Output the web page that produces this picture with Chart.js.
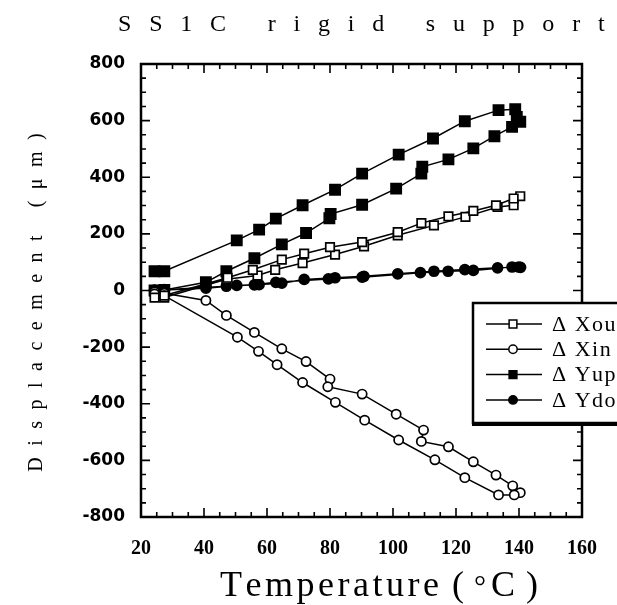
<html>
<head>
<script src="https://cdn.jsdelivr.net/npm/chart.js@4.4.0/dist/chart.umd.min.js"></script>
</head>
<body style="margin:0;background:#fff">
<canvas id="chart" width="617" height="605"></canvas>
<script>

// readings: temperature (deg C) and displacement (um), in drawing order
var xouT = [24.3, 27.4, 47.1, 57, 62.6, 71.3, 81.6, 90.8, 101.5, 113, 123, 133.2, 138.3, 140.4, 138.3, 132.7, 125.5, 117.6, 109, 101.5, 90.2, 80, 71.8, 64.7, 55.5, 47.5, 27.4]
var xouD = [-25, -25, 40, 53, 73, 97, 127, 156, 195, 230, 260, 295, 301, 333, 325, 301, 281, 262, 238, 206, 171, 153, 130, 109, 73, 45, -18]

var xinT = [24.3, 27.4, 40.6, 47.1, 56, 64.7, 72.4, 80, 79.3, 90.2, 101, 109.7, 109, 117.6, 125.5, 132.7, 138, 140.4, 138.5, 133.5, 122.8, 113.3, 101.8, 91, 81.7, 71.3, 63.2, 57.3, 50.6, 27.4, 24.3]
var xinD = [-5, -10, -35, -88, -148, -206, -251, -313, -340, -366, -437, -493, -533, -552, -605, -652, -690, -714, -722, -722, -661, -598, -528, -458, -395, -325, -262, -215, -165, -18, -12]

var yupT = [24.3, 27.4, 40.6, 47.1, 56, 64.7, 72.4, 79.8, 80.2, 90.2, 101, 109, 109.3, 117.6, 125.5, 132.2, 137.8, 140.4, 139.3, 138.8, 133.5, 122.8, 112.7, 101.8, 90.2, 81.6, 71.3, 62.8, 57.5, 50.4, 27.4, 24.3]
var yupD = [0, 2, 29, 68, 114, 163, 203, 255, 270, 303, 360, 413, 437, 463, 502, 545, 578, 596, 613, 640, 637, 598, 537, 480, 413, 356, 301, 254, 215, 177, 68, 68]

var ydoT = [24.3, 27.4, 40.6, 50.4, 57.5, 64.7, 71.8, 81.6, 90.8, 101.5, 113, 122.8, 133.2, 139.9, 140.5, 137.8, 125.5, 117.5, 108.7, 90.2, 79.5, 62.8, 56, 47.1, 27.4, 24.3]
var ydoD = [0, 2, 8, 18, 21, 26, 39, 45, 50, 59, 68, 74, 80, 83, 82, 83, 71, 68, 63, 47, 41, 29, 20, 15, 3, 1]

var seriesNames = ['\u0394 Xou', '\u0394 Xin', '\u0394 Yup', '\u0394 Ydo']
var chartTitle = 'SS1C rigid support'
var xTitleParts = ['Temperature', '(', '\u00b0', 'C', ')']
var yTitle = 'Displacement (\u03bcm)'

var serif = '"Liberation Serif", "DejaVu Serif", serif'

function pairs(t, d) {
  var out = []
  for (var i = 0; i < t.length; i++) out.push({x: t[i], y: d[i]})
  return out
}

function series(label, t, d, style, radius, filled) {
  return {
    label: label,
    data: pairs(t, d),
    showLine: true,
    borderColor: '#000',
    borderWidth: 1.5,
    pointStyle: style,
    pointRadius: radius,
    pointBorderWidth: 1.7,
    pointBorderColor: '#000',
    pointBackgroundColor: filled ? '#000' : '#fff',
    backgroundColor: filled ? '#000' : '#fff'
  }
}

// draw text one glyph at a time so letter spacing works everywhere
function spacedWidth(ctx, str, gap) {
  var w = 0
  for (var i = 0; i < str.length; i++) w += ctx.measureText(str[i]).width
  return w + gap * (str.length - 1)
}
function spacedText(ctx, str, x, y, gap) {
  ctx.textAlign = 'left'
  for (var i = 0; i < str.length; i++) {
    ctx.fillText(str[i], x, y)
    x += ctx.measureText(str[i]).width + gap
  }
}

var decor = {
  id: 'decor',
  afterDraw: function(chart) {
    var ctx = chart.ctx, a = chart.chartArea
    var xs = chart.scales.x, ys = chart.scales.y
    ctx.save()
    ctx.strokeStyle = '#000'
    ctx.fillStyle = '#000'

    // inward ticks on all four sides
    ctx.lineWidth = 1.6
    ctx.beginPath()
    for (var v = xs.min; v <= xs.max; v += 5) {
      var px = xs.getPixelForValue(v)
      var len = v % 20 === 0 ? 9 : 5
      ctx.moveTo(px, a.bottom); ctx.lineTo(px, a.bottom - len)
      ctx.moveTo(px, a.top); ctx.lineTo(px, a.top + len)
    }
    for (var w = ys.min; w <= ys.max; w += 50) {
      var py = ys.getPixelForValue(w)
      var l2 = w % 200 === 0 ? 9 : 5
      ctx.moveTo(a.left, py); ctx.lineTo(a.left + l2, py)
      ctx.moveTo(a.right, py); ctx.lineTo(a.right - l2, py)
    }
    ctx.stroke()
    ctx.lineWidth = 2.5
    ctx.strokeRect(a.left, a.top, a.right - a.left, a.bottom - a.top)

    // titles
    ctx.textBaseline = 'alphabetic'
    ctx.font = '24px ' + serif
    spacedText(ctx, chartTitle, 118, 31, 17.8)

    ctx.font = '36px ' + serif
    var partX = [220, 452, 474, 491, 526]
    xTitleParts.forEach(function(p, i) {
      ctx.font = (i === 2 ? '30px ' : '36px ') + serif
      spacedText(ctx, p, partX[i], 596, 3.5)
    })

    ctx.save()
    ctx.translate(42, (a.top + a.bottom) / 2 + 12)
    ctx.rotate(-Math.PI / 2)
    ctx.font = '20px ' + serif
    var yw = spacedWidth(ctx, yTitle, 11.5)
    spacedText(ctx, yTitle, -yw / 2, 0, 11.5)
    ctx.restore()

    // legend box, running off the right edge like the original
    var bx = 473, by = 303, bw = 200, bh = 120
    ctx.fillStyle = '#fff'
    ctx.fillRect(bx, by, bw, bh)
    ctx.fillStyle = '#000'
    ctx.fillRect(bx - 1, by + bh, bw, 3)
    ctx.lineWidth = 2.5
    ctx.strokeRect(bx, by, bw, bh)
    ctx.font = '22px ' + serif
    ctx.textBaseline = 'middle'
    chart.data.datasets.forEach(function(ds, i) {
      var ry = by + 21 + i * 25.3
      ctx.lineWidth = 1.5
      ctx.beginPath(); ctx.moveTo(486, ry); ctx.lineTo(542, ry); ctx.stroke()
      ctx.fillStyle = ds.pointBackgroundColor
      Chart.helpers.drawPoint(ctx, {pointStyle: ds.pointStyle, radius: ds.pointStyle === 'rect' ? 5.5 : 4.2, borderWidth: 1.5, rotation: 0}, 513, ry)
      ctx.fillStyle = '#000'
      spacedText(ctx, seriesNames[i], 552, ry + 1, 1.5)
    })
    ctx.restore()
  }
}

new Chart(document.getElementById('chart').getContext('2d'), {
  type: 'scatter',
  data: {
    datasets: [
      series(seriesNames[0], xouT, xouD, 'rect', 6, false),
      series(seriesNames[1], xinT, xinD, 'circle', 4.6, false),
      series(seriesNames[2], yupT, yupD, 'rect', 7.2, true),
      series(seriesNames[3], ydoT, ydoD, 'circle', 5, true)
    ]
  },
  options: {
    responsive: false,
    animation: false,
    layout: {padding: {top: 64, right: 20, left: 0, bottom: 0}},
    plugins: {legend: {display: false}, tooltip: {enabled: false}, title: {display: false}},
    scales: {
      x: {
        type: 'linear', min: 20, max: 160,
        grid: {display: false, drawTicks: false},
        border: {display: false},
        ticks: {stepSize: 20, color: '#000', font: {family: serif, size: 20, weight: 'bold'}, padding: 20, maxRotation: 0},
        afterFit: function(s) { s.height = 88 }
      },
      y: {
        type: 'linear', min: -800, max: 800,
        grid: {display: false, drawTicks: false},
        border: {display: false},
        ticks: {stepSize: 200, color: '#000', font: {family: '"DejaVu Sans", sans-serif', size: 17, weight: 'bold'}, padding: 16},
        afterFit: function(s) { s.width = 141 }
      }
    }
  },
  plugins: [decor]
})
</script>
</body>
</html>
